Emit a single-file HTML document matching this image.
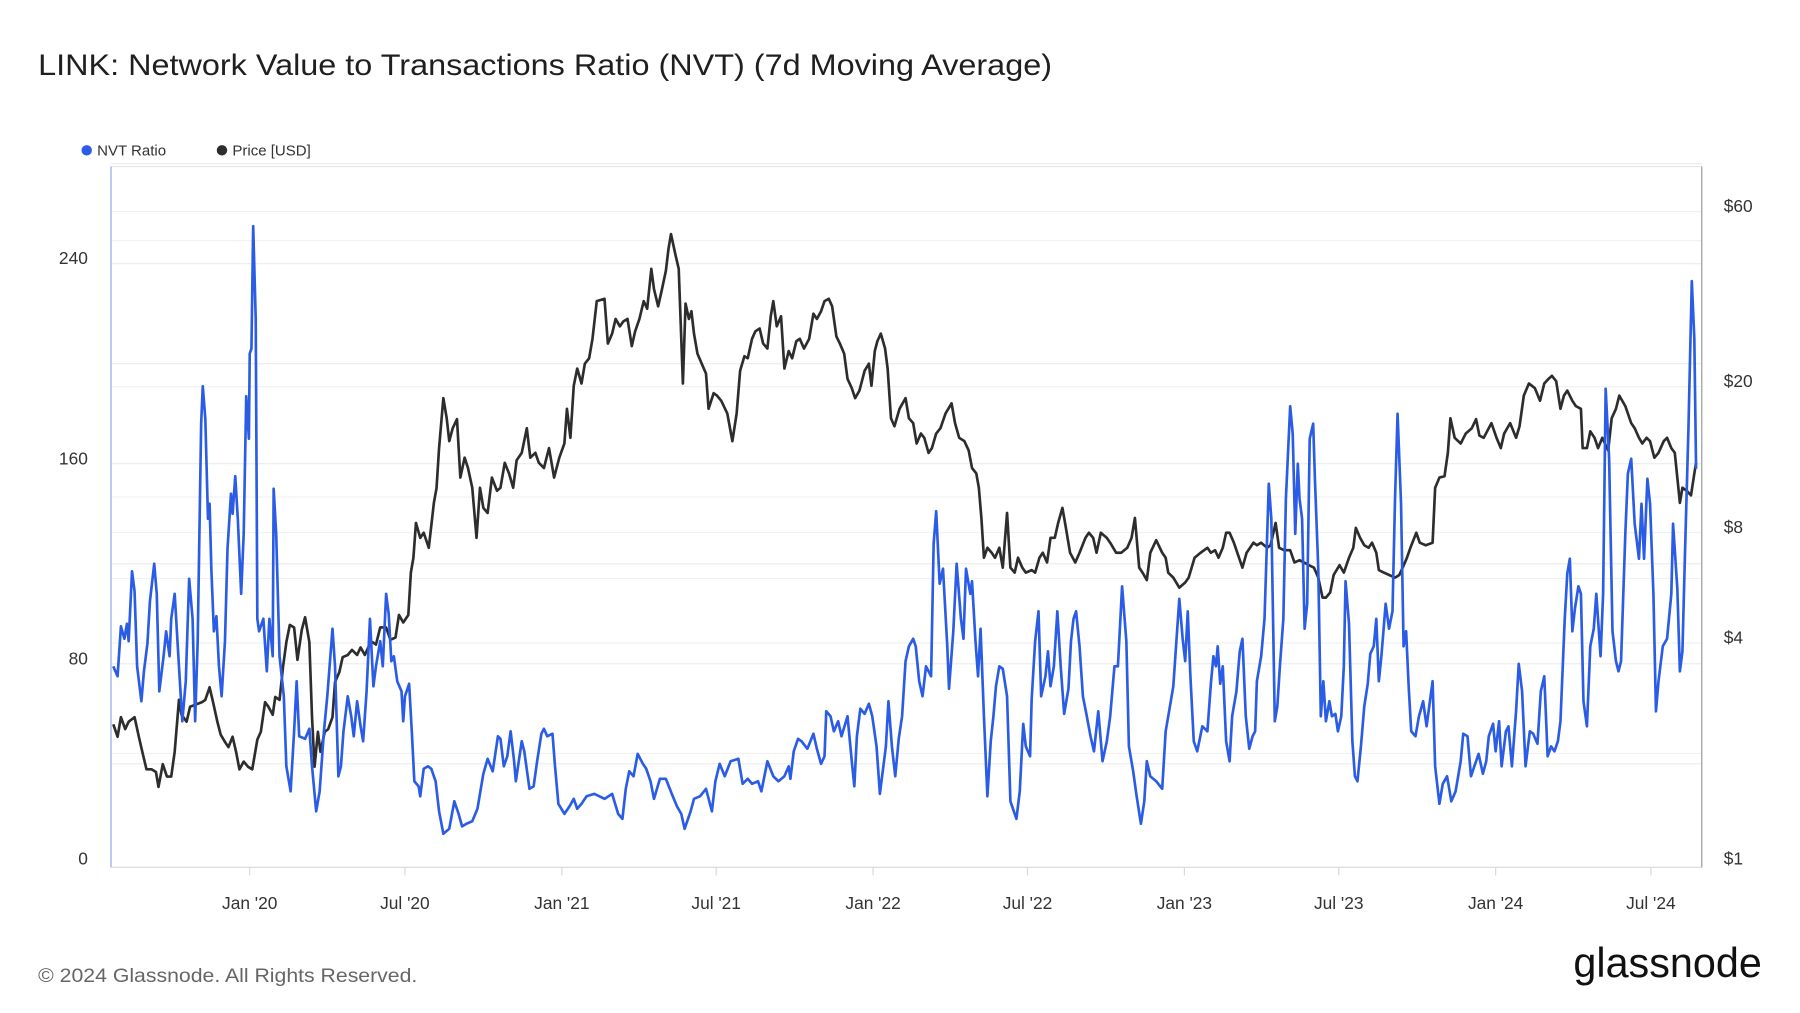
<!DOCTYPE html>
<html><head><meta charset="utf-8"><title>LINK NVT</title>
<style>
html,body{margin:0;padding:0;background:#fff;}
svg{display:block;font-family:"Liberation Sans",Arial,sans-serif;}
</style></head>
<body>
<svg id="chart" width="1800" height="1013" viewBox="0 0 1557 876" preserveAspectRatio="none" xmlns="http://www.w3.org/2000/svg">
<rect x="0" y="0" width="1557" height="876" fill="#ffffff"/>
<text x="33" y="65" font-size="26" fill="#1f1f1f" textLength="877" lengthAdjust="spacingAndGlyphs">LINK: Network Value to Transactions Ratio (NVT) (7d Moving Average)</text>
<g>
<g><circle cx="75" cy="130" r="4.5" fill="#2b5ce6"/><text x="84" y="134.5" font-size="13" fill="#333">NVT Ratio</text></g>
<g><circle cx="192" cy="130" r="4.5" fill="#2d2d2d"/><text x="201" y="134.5" font-size="13" fill="#333">Price [USD]</text></g>
</g>
<g id="grid"></g>
<line x1="96" y1="144" x2="1472" y2="144" stroke="#e6e6e6" stroke-width="1"/>
<line x1="96" y1="750" x2="1472" y2="750" stroke="#d8d8d8" stroke-width="1"/>
<line x1="96" y1="144" x2="96" y2="750" stroke="#9fb5f2" stroke-width="1.2"/>
<line x1="1472" y1="144" x2="1472" y2="750" stroke="#a8a8a8" stroke-width="1.2"/>
<g id="xaxis"></g>
<g id="yleft"></g>
<g id="yright"></g>
<g id="series"></g>
<text x="33" y="849" font-size="17" fill="#666" textLength="328" lengthAdjust="spacingAndGlyphs">© 2024 Glassnode. All Rights Reserved.</text>
<text x="1361" y="845" font-size="36" fill="#111" textLength="163" lengthAdjust="spacingAndGlyphs">glassnode</text>
</svg>
<script>
// days since 2020-01-01
const nvtDays = [-160,-155,-151,-147,-144,-142,-138,-135,-132,-127,-124,-120,-117,-112,-109,-106,-101,-98,-94,-92,-88,-83,-79,-75,-71,-67,-64,-61,-57,-55,-52,-49,-47,-45,-42,-39,-36,-33,-29,-26,-22,-20,-17,-14,-10,-7,-4,-1,0,2,4,7,9,11,16,20,23,27,28,31,35,40,43,48,52,55,58,65,70,73,78,82,87,91,97,100,104,107,110,115,119,122,126,130,133,137,141,145,148,153,156,160,163,166,169,173,178,180,182,187,190,193,198,200,204,209,213,218,222,227,234,240,245,249,254,261,267,274,279,285,291,294,298,302,306,310,312,319,322,328,333,337,342,345,349,355,358,362,369,375,380,384,389,395,404,
416,425,432,437,441,445,450,455,461,465,470,474,481,488,495,501,506,510,517,521,528,535,542,546,551,557,564,573,578,584,589,596,600,607,614,620,627,632,634,638,643,647,654,661,665,670,674,676,681,685,690,694,701,706,709,712,716,721,726,730,735,739,746,749,753,757,761,765,769,773,778,781,785,789,793,799,802,805,809,813,818,820,825,829,834,837,840,845,847,851,854,857,861,865,869,872,875,879,883,888,892,899,903,907,910,915,917,921,925,928,933,936,939,943,947,951,955,960,963,966,969,973,977,981,986,990,995,1000,1005,1009,1014,1018,1023,1028,1031,1036,1040,1045,1049,1052,1056,1063,1070,1074,1079,1083,1090,1094,1097,1100,1103,1107,1111,1117,
1123,1127,1130,1133,1135,1138,1141,1145,1149,1152,1157,1161,1164,1168,1172,1176,1179,1181,1186,1190,1195,1198,1202,1205,1208,1212,1215,1220,1223,1226,1229,1231,1234,1237,1240,1243,1247,1249,1253,1256,1259,1262,1266,1269,1273,1276,1280,1283,1285,1289,1293,1296,1299,1303,1307,1311,1314,1318,1321,1324,1327,1332,1336,1340,1343,1346,1350,1353,1356,1359,1362,1367,1371,1376,1380,1384,1387,1390,1395,1399,1404,1409,1414,1420,1423,1428,1432,1436,1441,1446,1450,1453,1458,1461,1465,1468,1473,1476,1480,1485,1488,1492,1496,1501,1505,1510,1514,1518,1522,1526,1530,1534,1537,1542,1545,1548,1551,1554,1558,1561,1564,1568,1572,1576,1579,1584,1587,1590,1594,1598,1602,1605,1608,1613,1616,1620,1624,1629,1632,1635,1639,1642,1646,1649,1652,1657,1662,1667,1669,1674,1677,1680,1683,1687,1691,1694,1696];
const nvtValues = [79,75,95,90,96,89,117,109,79,65,77,88,105,120,108,69,83,93,83,98,108,79,57,73,114,98,57,89,176,191,178,138,144,118,93,99,79,67,89,126,148,140,155,138,108,132,187,170,204,206,255,218,98,93,98,77,98,83,150,132,83,67,39,29,53,73,51,50,54,39,21,29,53,67,94,79,35,39,53,67,59,51,65,55,49,69,98,71,79,89,79,108,100,81,83,73,69,57,67,72,53,33,31,27,38,39,38,33,21,12,14,25,20,15,16,17,22,36,42,37,51,50,39,43,53,41,33,49,45,30,31,41,52,54,51,52,39,24,20,23,26,22,24,27,28,
26,28,20,18,30,37,35,44,40,38,33,26,34,34,28,23,20,14,21,26,27,30,21,33,40,35,41,42,32,34,32,33,29,41,35,33,35,39,34,45,50,49,46,52,46,40,43,61,59,53,57,51,59,41,31,51,62,60,64,59,47,28,47,65,47,35,50,59,81,87,90,87,73,67,79,75,128,141,112,118,87,70,93,120,98,90,118,108,113,89,75,94,59,27,49,59,71,79,78,67,25,18,29,56,47,43,66,89,101,67,75,85,71,79,101,79,60,70,89,98,101,87,67,60,51,45,61,41,49,59,79,79,111,89,47,37,27,16,25,41,35,33,30,53,63,71,106,90,81,101,75,49,45,55,
53,72,83,79,87,72,79,49,41,59,69,85,90,59,46,51,53,73,83,98,152,138,57,63,79,98,146,183,172,132,160,146,138,94,104,170,176,154,118,59,73,57,65,59,60,53,59,79,113,96,49,35,33,47,63,72,84,87,98,73,83,104,94,101,146,180,144,87,93,71,53,51,59,65,55,65,73,39,24,32,35,25,29,41,52,51,35,39,44,36,41,51,56,45,57,39,53,55,39,61,80,69,39,53,52,48,69,75,43,47,45,49,57,98,116,122,93,102,111,108,65,55,87,94,108,83,108,190,162,93,81,77,81,132,156,162,136,122,144,122,154,144,108,61,73,87,90,108,136,110,77,85,124,174,233,210,158];
const priceDays = [-160,-155,-151,-146,-142,-135,-130,-126,-121,-115,-110,-107,-102,-97,-92,-88,-83,-80,-74,-70,-63,-56,-52,-47,-43,-38,-34,-29,-25,-20,-16,-12,-7,-2,3,9,13,18,22,27,30,35,39,43,47,52,56,61,65,70,73,76,80,83,88,92,97,100,105,109,115,120,126,130,135,139,144,148,153,160,165,171,175,180,186,189,192,195,200,204,210,213,216,219,222,227,231,234,238,243,247,252,256,261,266,270,274,279,284,290,294,299,304,309,313,319,325,329,335,339,345,351,357,363,369,372,376,380,384,389,393,398,402,407,
416,420,425,429,434,438,443,448,452,457,462,466,471,474,479,483,488,491,494,499,503,506,508,511,515,518,521,525,530,535,538,544,548,553,560,566,571,575,580,584,589,593,598,602,607,611,614,618,623,627,632,636,641,645,650,656,661,665,670,674,679,683,688,692,697,701,706,710,715,721,726,729,733,736,740,745,748,752,756,762,769,773,778,782,787,791,796,800,805,810,816,823,827,832,838,843,847,852,855,858,861,865,870,874,879,883,888,892,897,901,906,910,917,921,926,930,935,939,944,948,953,957,962,968,973,980,984,989,993,998,1005,1009,1016,1022,1029,1034,1038,1043,1047,1052,1056,1063,1070,1074,1077,1083,1090,1097,1101,1108,1115,
1123,1127,1132,1136,1141,1145,1149,1154,1159,1164,1169,1173,1177,1181,1186,1193,1197,1203,1207,1213,1220,1225,1231,1236,1242,1248,1253,1258,1262,1267,1271,1278,1283,1289,1294,1297,1302,1307,1312,1316,1321,1324,1330,1336,1343,1348,1352,1357,1361,1368,1372,1379,1387,1390,1395,1401,1405,1408,1413,1420,1426,1433,1438,1442,1447,1456,1462,1467,1471,1478,1485,1489,1494,1500,1507,1513,1518,1523,1527,1532,1537,1541,1545,1551,1555,1561,1563,1568,1572,1577,1581,1586,1593,1597,1602,1606,1613,1620,1624,1629,1633,1638,1642,1647,1652,1658,1662,1667,1671,1677,1680,1685,1690,1694,1696];
const priceValues = [2.40,2.22,2.51,2.33,2.44,2.51,2.22,2.02,1.81,1.81,1.78,1.62,1.87,1.73,1.73,2.02,2.80,2.55,2.44,2.68,2.72,2.76,2.80,3.03,2.76,2.44,2.25,2.15,2.08,2.22,2.02,1.81,1.90,1.84,1.81,2.18,2.29,2.76,2.68,2.55,2.85,2.80,3.44,4.02,4.48,4.41,3.60,4.34,4.70,4.02,2.51,1.84,2.29,2.02,2.29,2.33,2.51,3.13,3.33,3.66,3.71,3.83,3.71,3.89,3.71,3.89,4.02,3.96,4.41,4.41,4.08,4.14,4.77,4.55,4.77,6.22,6.83,8.50,7.74,7.99,7.27,8.37,9.64,10.58,13.6,18.6,16.4,14.2,15.4,16.3,11.3,12.8,12.0,10.6,7.74,10.6,9.34,9.05,11.3,10.4,10.6,12.4,11.6,10.6,12.6,13.2,15.4,12.8,13.2,12.4,12.0,13.6,11.3,12.8,14.0,17.4,14.5,20.1,22.4,20.4,23.1,23.9,27.0,34.2,
34.7,26.2,27.9,30.6,29.2,30.1,30.6,25.8,28.3,30.6,34.2,32.6,41.9,36.9,33.1,36.5,41.4,47.4,52.1,46.0,41.9,27.0,20.4,33.7,30.6,32.1,27.9,24.6,23.1,21.7,17.4,19.2,18.9,18.3,16.9,14.2,16.9,22.1,24.2,23.9,27.0,28.3,28.8,26.2,25.4,31.1,34.2,29.2,31.1,22.4,25.0,23.9,26.6,27.0,25.4,27.0,31.6,30.6,32.1,34.2,34.7,33.1,27.4,26.2,24.6,21.0,19.8,18.6,19.5,22.1,23.1,20.1,25.0,26.6,27.9,25.4,22.4,16.4,15.6,17.4,18.6,16.4,15.9,14.0,14.9,14.5,13.2,13.6,14.9,15.4,16.9,18.0,15.9,14.5,14.2,13.4,12.0,11.6,10.6,8.77,6.83,7.27,7.05,6.83,7.27,6.42,9.05,6.42,6.22,6.83,6.42,6.22,6.32,6.22,6.83,7.05,6.63,7.74,7.74,8.50,9.34,8.24,7.05,6.63,7.05,7.74,7.99,7.74,7.05,7.99,7.74,7.51,7.05,7.05,7.27,7.74,8.77,6.42,6.22,5.94,7.05,7.63,7.05,6.83,6.22,6.03,5.66,5.85,6.03,6.83,7.05,
7.27,7.05,7.16,6.83,7.27,7.99,7.99,7.51,6.94,6.42,7.05,7.27,7.51,7.39,7.51,7.27,7.39,8.50,7.27,7.16,7.16,6.63,6.73,6.63,6.52,6.42,6.03,5.32,5.32,5.49,6.13,6.52,6.22,6.83,7.27,8.24,7.74,7.39,7.27,7.51,7.05,6.32,6.22,6.13,6.03,6.13,6.42,6.83,7.27,7.99,7.51,7.39,7.51,10.6,11.3,11.4,13.2,16.4,14.5,14.0,14.9,15.4,16.3,14.7,14.5,15.9,14.5,13.6,14.9,15.9,14.5,15.6,18.9,20.4,19.8,18.3,20.4,21.0,21.4,20.7,17.4,18.9,19.5,18.3,17.7,17.4,13.6,13.6,15.1,14.5,13.6,14.5,13.4,16.4,17.4,18.9,17.7,15.9,15.4,14.5,14.0,14.5,14.2,12.8,13.2,14.2,14.5,13.6,13.2,9.64,10.6,10.4,10.1,11.6,12.4];
const xTickDays = [0,182,366,547,731,912,1096,1277,1461,1643];
const xTickLabels = ["Jan '20","Jul '20","Jan '21","Jul '21","Jan '22","Jul '22","Jan '23","Jul '23","Jan '24","Jul '24"];
const leftGridValues = [40,80,120,160,200,240,280];
const leftTickValues = [0,80,160,240];
const rightGridValues = [2,4,6,8,10,20,50,60];
const rightTickValues = [1,4,8,20,60];
const rightTickLabels = ["$1","$4","$8","$20","$60"];

const NS = "http://www.w3.org/2000/svg";
const X0 = 216, X1 = 1428, D1 = 1643;
function xScale(d){ return X0 + d*(X1-X0)/D1; }
const Y0 = 747, Y80 = 574;
function yLeft(v){ return Y0 - v*(Y0-Y80)/80; }
const PY1 = 747, PY60 = 183;
function yRight(p){ return PY1 - Math.log(p)*(PY1-PY60)/Math.log(60); }
function mk(tag, attrs, parent){
  const el = document.createElementNS(NS, tag);
  for (const k in attrs) el.setAttribute(k, attrs[k]);
  parent.appendChild(el);
  return el;
}
const grid = document.getElementById('grid');
leftGridValues.forEach(v => {
  const l = mk('line', {x1:96, x2:1472, y1:yLeft(v), y2:yLeft(v), stroke:'#ececec', 'stroke-width':1}, grid);
  
  
});
rightGridValues.forEach(p => {
  const l = mk('line', {x1:96, x2:1472, y1:yRight(p), y2:yRight(p), stroke:'#f1f1f1', 'stroke-width':1}, grid);
  
  
});
const yl = document.getElementById('yleft');
leftTickValues.forEach(v => {
  const t = mk('text', {x:76, y:yLeft(v)+0.5, 'font-size':15, fill:'#333', 'text-anchor':'end'}, yl);
  t.textContent = String(v);
  
  
});
const yr = document.getElementById('yright');
rightTickValues.forEach((p, i) => {
  const t = mk('text', {x:1491, y:yRight(p)+0.5, 'font-size':15, fill:'#333'}, yr);
  t.textContent = rightTickLabels[i];
  
  
});
const xa = document.getElementById('xaxis');
xTickDays.forEach((d, i) => {
  const tk = mk('line', {x1:xScale(d), x2:xScale(d), y1:750, y2:757, stroke:'#d8d8d8', 'stroke-width':1}, xa);
  
  
  const t = mk('text', {x:xScale(d), y:786, 'font-size':15, fill:'#333', 'text-anchor':'middle'}, xa);
  t.textContent = xTickLabels[i];
  
  
});
const series = document.getElementById('series');
const pricePath = priceDays.map((d, i) => (i ? 'L' : 'M') + xScale(d).toFixed(1) + ' ' + yRight(priceValues[i]).toFixed(1)).join(' ');
const pl = mk('path', {d:pricePath, fill:'none', stroke:'#2d2d2d', 'stroke-width':2.3, 'stroke-linejoin':'round'}, series);


const nvtPath = nvtDays.map((d, i) => (i ? 'L' : 'M') + xScale(d).toFixed(1) + ' ' + yLeft(nvtValues[i]).toFixed(1)).join(' ');
const nl = mk('path', {d:nvtPath, fill:'none', stroke:'#2b5ce6', 'stroke-width':2.3, 'stroke-linejoin':'round'}, series);


</script>
</body></html>
